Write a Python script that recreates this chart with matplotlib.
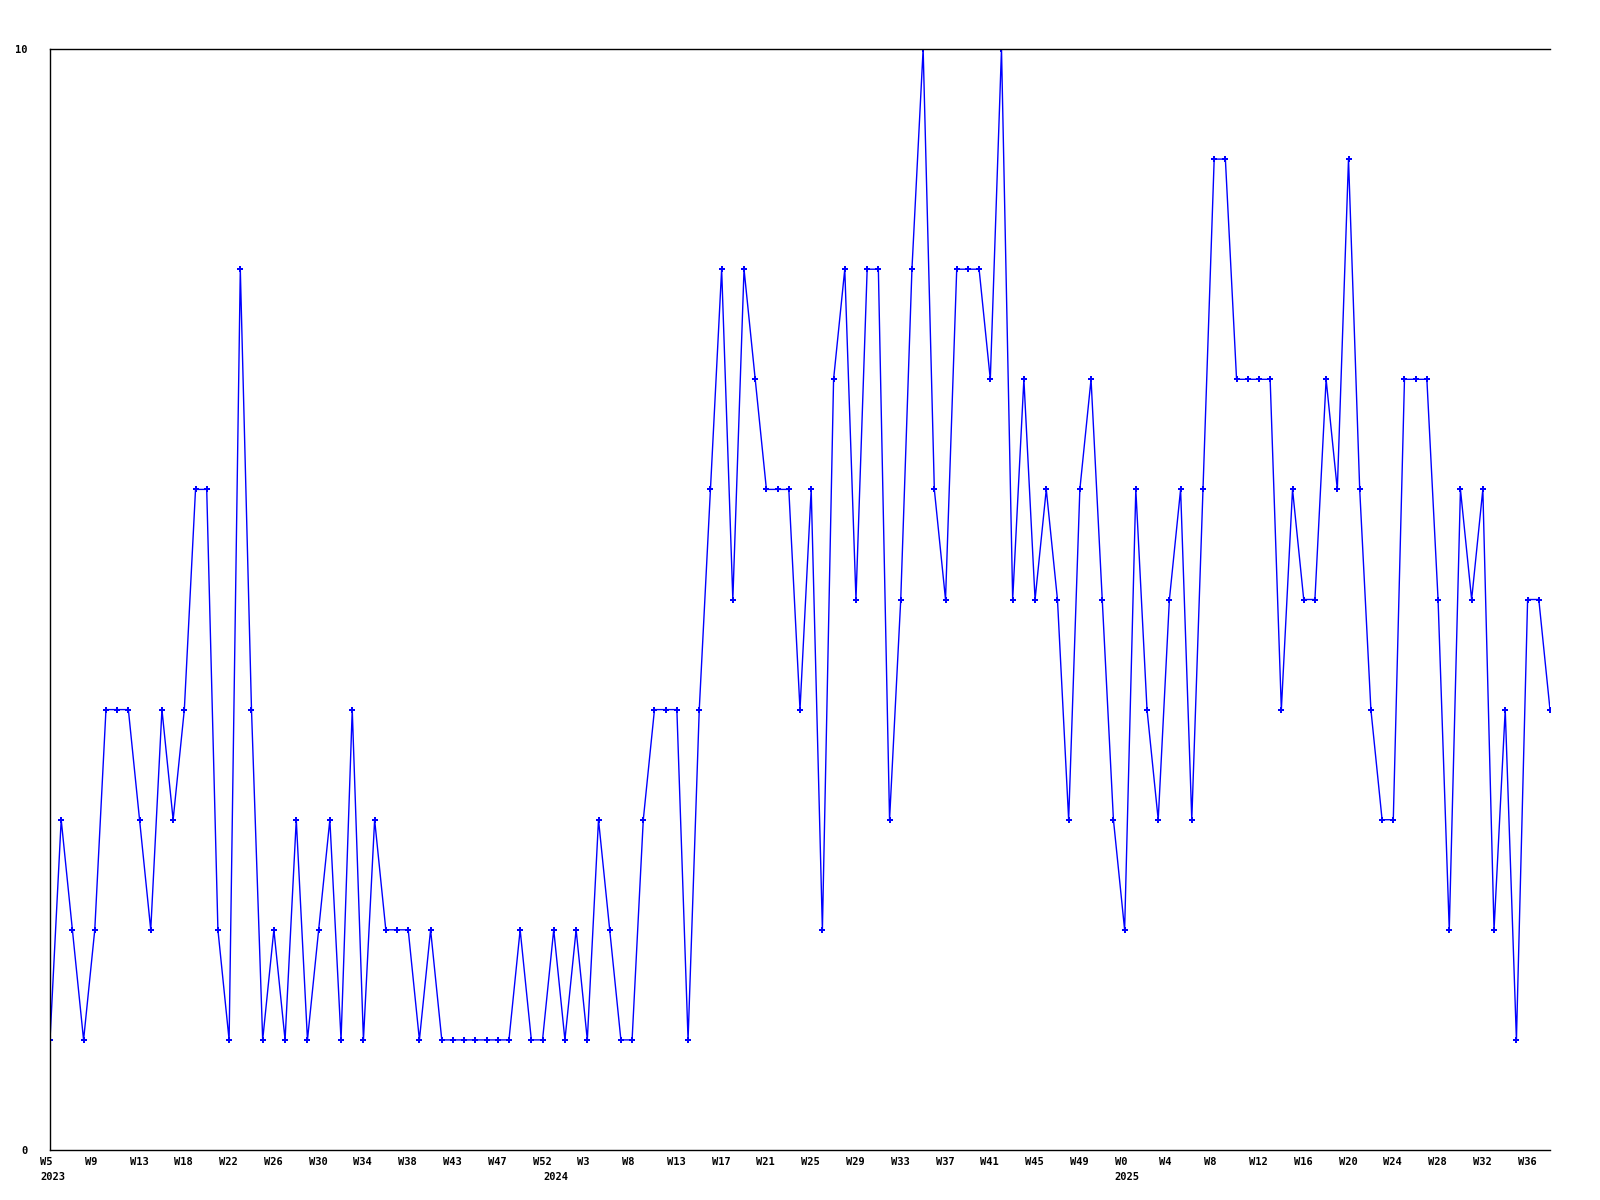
import matplotlib.pyplot as plt
import matplotlib.transforms as mtransforms
import numpy as np

plt.rcParams['savefig.dpi'] = 100

# weekly counts, 2023 W5 .. 2025 W38
values = [1, 3, 2, 1, 2, 4, 4, 4, 3, 2, 4, 3, 4,
          6, 6, 2, 1, 8, 4,
          1, 2, 1, 3, 1, 2, 3, 1, 4, 1, 3, 2, 2, 2, 1, 2, 1,
          1, 1, 1, 1, 1, 1, 2, 1, 1, 2, 1, 2, 1, 3, 2, 1, 1, 3, 4, 4, 4, 1, 4,
          6, 8, 5, 8, 7, 6, 6, 6, 4, 6, 2, 7, 8, 5, 8, 8, 3, 5, 8, 10, 6, 5, 8, 8, 8, 7,
          10, 5, 7, 5, 6, 5, 3, 6, 7, 5, 3, 2, 6, 4, 3, 5, 6, 3, 6, 9, 9, 7, 7, 7, 7, 4,
          6, 5, 5, 7, 6, 9, 6, 4, 3, 3, 7, 7, 7, 5, 2, 6, 5, 6, 2, 4, 1, 5, 5, 4]

week_labels = ['W5', 'W9', 'W13', 'W18', 'W22', 'W26', 'W30', 'W34', 'W38', 'W43',
               'W47', 'W52', 'W3', 'W8', 'W13', 'W17', 'W21', 'W25', 'W29', 'W33',
               'W37', 'W41', 'W45', 'W49', 'W0', 'W4', 'W8', 'W12', 'W16', 'W20',
               'W24', 'W28', 'W32', 'W36']
year_labels = ['2023', '2024', '2025']
year_pos = [0, 45, 96]

x = np.arange(len(values))

fig = plt.figure(figsize=(16, 12))
ax = fig.add_axes([50/1600, 1 - 1150/1200, 1500/1600, 1101/1200])

ax.plot(x, values, color='#0000ff', lw=1, marker='P', ms=4, mew=0)

ax.set_xlim(0, len(values) - 1)
ax.set_ylim(0, 10)

fnt = dict(family='DejaVu Sans Mono', weight='bold', size=7.5)

ax.set_yticks([0, 10])
ax.set_yticklabels(['0', '10'], **fnt)
ax.set_xticks(x[::4][:len(week_labels)])
ax.set_xticklabels(week_labels, ha='left', **fnt)
ax.tick_params(axis='both', length=0)
ax.tick_params(axis='x', pad=5)
ax.tick_params(axis='y', pad=16)

# shift week labels so they start a little left of the point
offset = mtransforms.ScaledTranslation(-10/100, 0, fig.dpi_scale_trans)
for lab in ax.get_xticklabels():
    lab.set_transform(lab.get_transform() + offset)

# year labels on a second row
ax.xaxis.remove_overlapping_locs = False
ax.set_xticks(year_pos, minor=True)
ax.set_xticklabels(year_labels, minor=True, ha='left', **fnt)
ax.tick_params(axis='x', which='minor', length=0, pad=16)
for lab in ax.get_xticklabels(minor=True):
    lab.set_transform(lab.get_transform() + offset)

ax.spines['right'].set_visible(False)
for s in ['left', 'top', 'bottom']:
    ax.spines[s].set_linewidth(1)
    ax.spines[s].set_color('black')

plt.savefig('out.png')
